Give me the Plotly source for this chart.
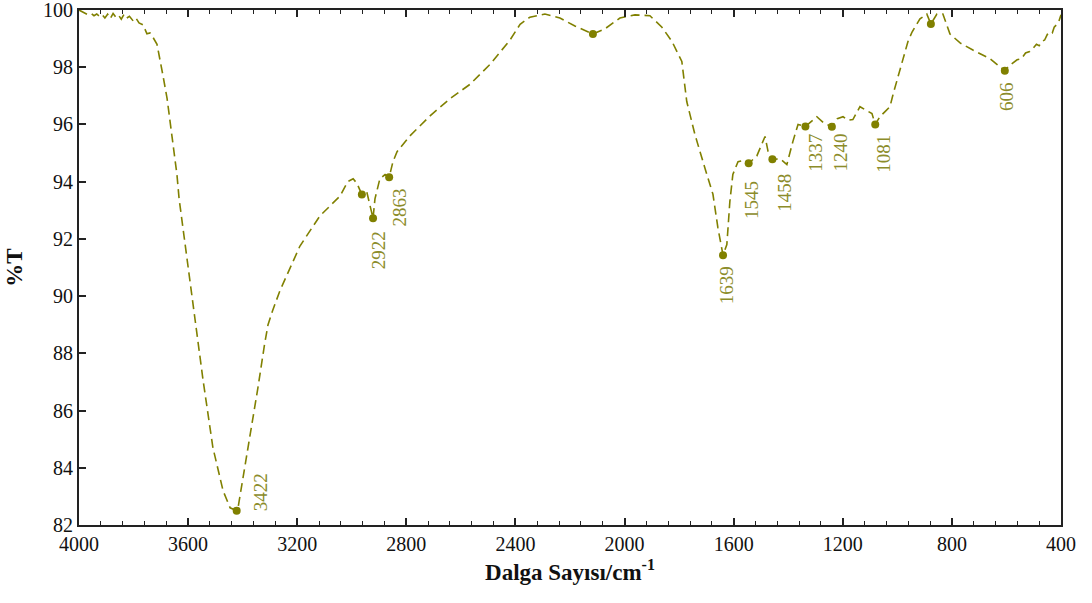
import plotly.graph_objects as go

wavenumber = [4000, 3985, 3970, 3955, 3945, 3935, 3925, 3915, 3905, 3895, 3885, 3875, 3865, 3855, 3845,
              3835, 3825, 3815, 3800, 3790, 3780, 3765, 3751, 3740, 3732, 3714, 3703, 3692, 3677, 3666,
              3655, 3641, 3633, 3600, 3575, 3545, 3509, 3472, 3446, 3422, 3417, 3399, 3362, 3344, 3320,
              3307, 3290, 3263, 3190, 3117, 3043, 3015, 2995, 2981, 2963, 2944, 2922, 2915, 2897, 2878,
              2863, 2849, 2834, 2787, 2713, 2640, 2567, 2493, 2420, 2383, 2347, 2292, 2237, 2182, 2116,
              2072, 2017, 1962, 1907, 1863, 1826, 1790, 1772, 1742, 1705, 1676, 1658, 1639, 1625, 1614,
              1603, 1584, 1566, 1545, 1515, 1485, 1474, 1458, 1430, 1405, 1383, 1364, 1337, 1295, 1270,
              1240, 1220, 1199, 1180, 1163, 1137, 1115, 1093, 1081, 1064, 1045, 1027, 1016, 983, 961,
              946, 917, 892, 877, 855, 833, 807, 770, 723, 690, 661, 635, 620, 606, 590,
              575, 561, 545, 530, 515, 503, 490, 480, 470, 460, 450, 441, 432, 425, 415,
              408, 400]
transmittance = [100.0, 99.92, 99.85, 99.88, 99.8, 99.86, 99.78, 99.84, 99.72, 99.85, 99.7, 99.88, 99.75, 99.82, 99.68,
                 99.85, 99.72, 99.78, 99.6, 99.7, 99.55, 99.48, 99.17, 99.2, 99.1, 98.8, 98.3, 97.7, 96.9, 96.1,
                 95.16, 94.25, 93.4, 91.0, 89.2, 87.05, 84.7, 83.2, 82.6, 82.5, 82.6, 83.6, 85.75, 86.8, 88.3,
                 89.0, 89.5, 90.2, 91.75, 92.8, 93.5, 94.0, 94.1, 93.94, 93.55, 93.6, 92.72, 93.4, 94.1, 94.25,
                 94.15, 94.7, 95.05, 95.6, 96.3, 96.9, 97.4, 98.1, 98.95, 99.5, 99.75, 99.86, 99.72, 99.44, 99.16,
                 99.34, 99.72, 99.83, 99.8, 99.4, 98.9, 98.2, 96.8, 95.65, 94.46, 93.56, 92.4, 91.43, 91.8, 93.3,
                 94.25, 94.7, 94.74, 94.64, 94.9, 95.58, 95.06, 94.78, 94.8, 94.6, 95.4, 96.0, 95.93, 96.27, 96.05,
                 95.92, 96.2, 96.27, 96.15, 96.17, 96.62, 96.5, 96.38, 96.0, 96.27, 96.45, 96.62, 97.04, 98.19, 98.9,
                 99.23, 99.69, 99.86, 99.51, 99.86, 99.86, 99.16, 98.85, 98.6, 98.45, 98.3, 98.1, 97.98, 97.88, 98.05,
                 98.15, 98.26, 98.3, 98.5, 98.55, 98.65, 98.8, 98.75, 98.9, 98.95, 99.15, 99.23, 99.2, 99.4, 99.5,
                 99.6, 99.83]

peak_wn = [3422, 2963, 2922, 2863, 2116, 1639, 1545, 1458, 1337, 1240, 1081, 877, 606]
peak_t = [82.5, 93.55, 92.72, 94.15, 99.16, 91.43, 94.64, 94.78, 95.93, 95.92, 96.0, 99.51, 97.88]
peak_labels = ["3422", "", "2922", "2863", "", "1639", "1545", "1458", "1337", "1240", "1081", "", "606"]

x_ticks = [4000, 3600, 3200, 2800, 2400, 2000, 1600, 1200, 800, 400]
y_ticks = [82, 84, 86, 88, 90, 92, 94, 96, 98, 100]

OLIVE = "#808000"
LABEL_C = "#8c8c2a"
FONT = "Liberation Serif, Times New Roman, DejaVu Serif, serif"

fig = go.Figure()
fig.add_trace(go.Scatter(x=wavenumber, y=transmittance, mode="lines",
                         line=dict(color=OLIVE, width=1.6, dash="9px,5px"),
                         showlegend=False, hoverinfo="skip"))
fig.add_trace(go.Scatter(x=peak_wn, y=peak_t, mode="markers",
                         marker=dict(color=OLIVE, size=8), showlegend=False))

# label placement offsets (pixels)
offsets = {
    "3422": (24, -3, "bottom"),
    "2922": (5, -11, "top"),
    "2863": (10, -9, "top"),
    "1639": (3, -9, "top"),
    "1545": (3, -16, "top"),
    "1458": (12, -12, "top"),
    "1337": (10, -5, "top"),
    "1240": (9, -5, "top"),
    "1081": (8, -8, "top"),
    "606": (1, -9, "top"),
}
for wn, t, lab in zip(peak_wn, peak_t, peak_labels):
    if not lab:
        continue
    dx, dy, ya = offsets[lab]
    fig.add_annotation(x=wn, y=t, text=lab, showarrow=False, textangle=-90,
                       xanchor="center", yanchor=ya, xshift=dx, yshift=dy,
                       font=dict(family=FONT, size=19, color=LABEL_C))

fig.update_xaxes(range=[4000, 400], tickvals=x_ticks, ticks="inside", ticklen=7, tickwidth=1.5,
                 tickcolor="#222", showline=True, linecolor="#222", linewidth=2, mirror="ticks",
                 showgrid=False, zeroline=False, ticklabeloverflow="allow", automargin=False,
                 minor=dict(dtick=80, tick0=400, ticks="inside", ticklen=4, tickwidth=1.2, tickcolor="#222"),
                 tickfont=dict(family=FONT, size=20, color="#111"),
                 title=dict(text="<b>Dalga Sayısı/cm<sup>-1</sup></b>", font=dict(family=FONT, size=23, color="#111"),
                            standoff=10))
fig.update_yaxes(range=[82, 100], tickvals=y_ticks, ticks="inside", ticklen=7, tickwidth=1.5,
                 tickcolor="#222", showline=True, linecolor="#222", linewidth=2, mirror=True,
                 showgrid=False, zeroline=False, ticklabeloverflow="allow", automargin=False,
                 tickfont=dict(family=FONT, size=20, color="#111"),
                 title=dict(text="<b>%T</b>", font=dict(family=FONT, size=23, color="#111"), standoff=14))

fig.update_layout(width=1092, height=603, margin=dict(l=79, r=31, t=10, b=78),
                  plot_bgcolor="white", paper_bgcolor="white",
                  font=dict(family=FONT))

fig.write_html("out.html")
